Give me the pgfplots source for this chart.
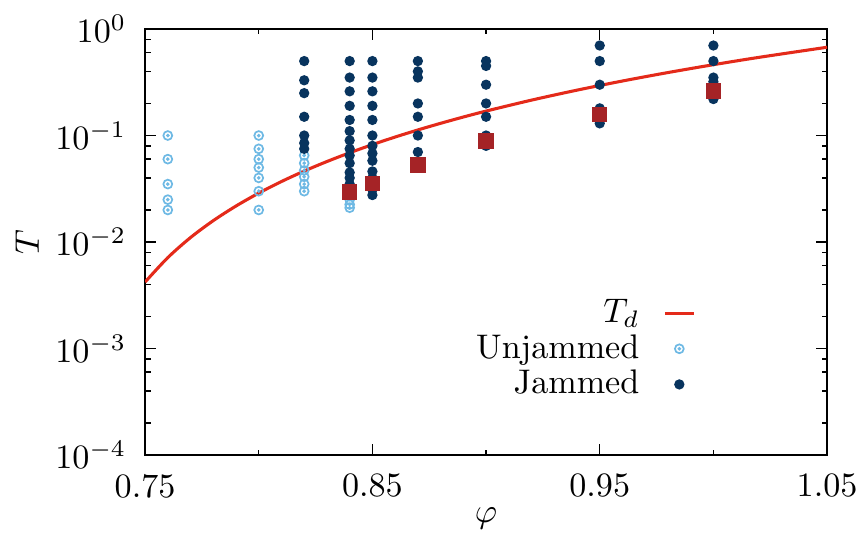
\documentclass[border=0pt]{standalone}
\usepackage{pgfplots}
\pgfplotsset{compat=1.18}
\definecolor{tdred}{RGB}{228,42,26}
\definecolor{unj}{RGB}{110,185,228}
\definecolor{jam}{RGB}{8,52,94}
\definecolor{sq}{RGB}{165,35,38}
\pgfdeclareplotmark{odot}{%
  \pgfpathcircle{\pgfpoint{0pt}{0pt}}{\pgfplotmarksize}\pgfusepathqstroke
  \pgfpathcircle{\pgfpoint{0pt}{0pt}}{0.18\pgfplotmarksize}\pgfusepathqfillstroke}
\begin{document}
\begin{tikzpicture}
\begin{axis}[name=ax, scale only axis, width=199.8pt, height=124.8pt,
  ymode=log, xmin=0.75, xmax=1.05, ymin=1e-4, ymax=1,
  xtick={0.75,0.85,0.95,1.05}, xticklabels={0.75,0.85,0.95,1.05},
  minor xtick={0.8,0.9,1.0},
  ytick={1e-4,1e-3,1e-2,1e-1,1},
  minor ytick={2e-4,4e-4,6e-4,8e-4,2e-3,4e-3,6e-3,8e-3,2e-2,4e-2,6e-2,8e-2,2e-1,4e-1,6e-1,8e-1},
  tick align=inside, major tick length=3.2pt, minor tick length=1.6pt,
  every tick/.style={black, line width=0.4pt},
  axis line style={line width=0.5pt},
  xticklabel style={yshift=-2pt},
  yticklabel style={xshift=-2pt},
  xlabel={$\varphi$}, ylabel={$T$},
  xlabel style={yshift=4pt},
  ylabel style={yshift=-2pt},
  legend image code/.code={\draw[mark repeat=2,mark phase=2,#1] plot coordinates {(0cm,0cm) (0.15cm,0cm) (0.3cm,0cm)};},
  legend plot pos=right, legend cell align=right,
  legend style={at={(0.823,0.249)}, anchor=east, draw=none, fill=none, row sep=-2pt,
    /tikz/column 1/.style={column sep=5pt}},
]
\addplot[tdred, line width=0.9pt, smooth] coordinates {
(0.75,0.00421) (0.76,0.00714) (0.77,0.01102) (0.78,0.01588) (0.79,0.02178)
(0.80,0.02880) (0.81,0.03699) (0.82,0.04638) (0.83,0.05700) (0.84,0.06888)
(0.85,0.08214) (0.86,0.09678) (0.87,0.1128) (0.88,0.1302) (0.89,0.1492)
(0.90,0.1696) (0.92,0.2150) (0.94,0.2667) (0.96,0.3250) (0.98,0.3902)
(1.00,0.4623) (1.02,0.5417) (1.05,0.6743)};
\addlegendentry{$T_d$}
\addplot[only marks, mark=odot, mark size=1.3pt, unj, mark options={line width=0.5pt}] coordinates {
(0.76,0.1) (0.76,0.06) (0.76,0.035) (0.76,0.025) (0.76,0.02)
(0.80,0.1) (0.80,0.075) (0.80,0.06) (0.80,0.05) (0.80,0.04) (0.80,0.03) (0.80,0.02)
(0.82,0.065) (0.82,0.055) (0.82,0.047) (0.82,0.041) (0.82,0.035) (0.82,0.03)
(0.84,0.025) (0.84,0.0225) (0.84,0.021)};
\addlegendentry{Unjammed}
\addplot[only marks, mark=*, mark size=1.3pt, jam] coordinates {
(0.82,0.5) (0.82,0.33) (0.82,0.25) (0.82,0.15) (0.82,0.1) (0.82,0.085) (0.82,0.075)
(0.84,0.5) (0.84,0.35) (0.84,0.26) (0.84,0.19) (0.84,0.14) (0.84,0.11) (0.84,0.09)
(0.84,0.075) (0.84,0.065) (0.84,0.055) (0.84,0.045) (0.84,0.04) (0.84,0.035) (0.84,0.031)
(0.85,0.5) (0.85,0.35) (0.85,0.26) (0.85,0.19) (0.85,0.14) (0.85,0.1) (0.85,0.08)
(0.85,0.068) (0.85,0.058) (0.85,0.046) (0.85,0.04) (0.85,0.035) (0.85,0.031) (0.85,0.0276)
(0.87,0.5) (0.87,0.4) (0.87,0.35) (0.87,0.2) (0.87,0.15) (0.87,0.1) (0.87,0.07) (0.87,0.055)
(0.90,0.5) (0.90,0.45) (0.90,0.3) (0.90,0.2) (0.90,0.15) (0.90,0.1) (0.90,0.08)
(0.95,0.7) (0.95,0.5) (0.95,0.3) (0.95,0.18) (0.95,0.17) (0.95,0.15) (0.95,0.13)
(1.00,0.7) (1.00,0.5) (1.00,0.35) (1.00,0.32) (1.00,0.29) (1.00,0.25) (1.00,0.22)};
\addlegendentry{Jammed}
\addplot[only marks, mark=square*, mark size=2.05pt, sq, forget plot] coordinates {
(0.84,0.0295) (0.85,0.0355) (0.87,0.053) (0.90,0.089) (0.95,0.158) (1.00,0.262)};
\end{axis}
\pgfresetboundingbox
\path ([shift={(-42.5pt,-23.7pt)}]ax.south west) rectangle ([shift={(11.4pt,8.5pt)}]ax.north east);
\end{tikzpicture}
\end{document}
